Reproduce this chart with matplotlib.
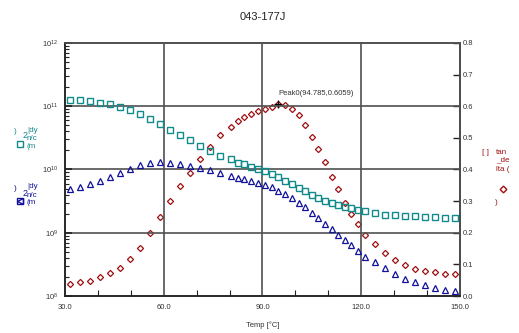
import matplotlib
matplotlib.use("Agg")
import matplotlib.pyplot as plt
from matplotlib.ticker import LogLocator, MultipleLocator, FixedLocator, NullFormatter
from matplotlib.lines import Line2D

plt.rcParams['font.family'] = ['Liberation Sans', 'DejaVu Sans']

# temperature [C]
temp = [31.5, 34.5, 37.6, 40.6, 43.7, 46.7, 49.8, 52.8, 55.8, 58.9,
        61.9, 65.0, 68.1, 71.1, 74.2, 77.2, 80.3, 82.5, 84.5, 86.6,
        88.6, 90.8, 92.8, 94.8, 96.9, 98.9, 101.0, 103.0, 105.0, 107.0,
        109.0, 111.0, 113.0, 115.0, 117.0, 119.0, 121.0, 124.1, 127.1, 130.2,
        133.2, 136.2, 139.3, 142.3, 145.4, 148.5]

# storage modulus (squares)
g_storage = [1.26e11, 1.24e11, 1.20e11, 1.14e11, 1.09e11, 9.84e10, 8.73e10, 7.62e10, 6.35e10, 5.19e10,
             4.22e10, 3.48e10, 2.90e10, 2.38e10, 1.96e10, 1.65e10, 1.47e10, 1.28e10, 1.20e10, 1.10e10,
             1.02e10, 9.55e9, 8.49e9, 7.53e9, 6.65e9, 5.90e9, 5.11e9, 4.52e9, 4.00e9, 3.54e9,
             3.21e9, 2.92e9, 2.72e9, 2.58e9, 2.46e9, 2.29e9, 2.18e9, 2.03e9, 1.93e9, 1.89e9,
             1.84e9, 1.84e9, 1.79e9, 1.75e9, 1.71e9, 1.69e9]

# loss modulus (triangles)
g_loss = [4.86e9, 5.35e9, 5.83e9, 6.65e9, 7.69e9, 8.89e9, 1.02e10, 1.16e10, 1.25e10, 1.32e10,
          1.27e10, 1.22e10, 1.15e10, 1.07e10, 9.82e9, 8.71e9, 7.89e9, 7.41e9, 7.10e9, 6.58e9,
          6.22e9, 5.75e9, 5.24e9, 4.62e9, 4.10e9, 3.54e9, 2.99e9, 2.52e9, 2.07e9, 1.69e9,
          1.39e9, 1.15e9, 9.31e8, 7.67e8, 6.34e8, 5.20e8, 4.18e8, 3.45e8, 2.77e8, 2.23e8,
          1.88e8, 1.66e8, 1.48e8, 1.34e8, 1.24e8, 1.20e8]

# tan delta (diamonds)
tan_delta = [0.038, 0.043, 0.048, 0.059, 0.072, 0.089, 0.116, 0.152, 0.198, 0.249,
             0.301, 0.348, 0.389, 0.432, 0.472, 0.508, 0.535, 0.554, 0.566, 0.577,
             0.586, 0.592, 0.599, 0.606, 0.603, 0.590, 0.571, 0.542, 0.504, 0.464,
             0.424, 0.377, 0.337, 0.295, 0.259, 0.227, 0.194, 0.164, 0.137, 0.114,
             0.097, 0.086, 0.080, 0.076, 0.069, 0.068]

peak_x = 94.785
peak_y = 0.6059

teal = "#108a8a"
navy = "#10109a"
darkred = "#a01010"
grid_c = "#505050"
txt_c = "#333333"


def main():
    fig = plt.figure(figsize=(5.19, 3.33), dpi=100)
    ax = fig.add_axes([0.1252, 0.1111, 0.7611, 0.7598])
    ax2 = ax.twinx()

    ax.set_yscale("log")
    ax.set_xlim(30, 150)
    ax.set_ylim(1e8, 1e12)
    ax2.set_ylim(0, 0.8)

    ax.set_zorder(2)
    ax.patch.set_visible(False)

    ax.plot(temp, g_storage, ls="none", marker="s", ms=4.0, mfc="none",
            mec=teal, mew=1.0, clip_on=False)
    ax.plot(temp, g_loss, ls="none", marker="^", ms=4.6, mfc="none",
            mec=navy, mew=0.9, clip_on=False)
    ax2.plot(temp, tan_delta, ls="none", marker="D", ms=3.1, mfc="none",
             mec=darkred, mew=0.9, clip_on=False)

    # peak label
    ax2.plot([peak_x], [peak_y], marker="+", ms=6, mew=0.9, color="black")
    ax2.annotate("Peak0(%.3f,%.4f)" % (peak_x, peak_y), (peak_x, peak_y),
                 xytext=(0, 5), textcoords="offset points",
                 fontsize=5.5, color=txt_c, ha="left", va="bottom")

    # grid lines
    for gx in [60, 90, 120]:
        ax.axvline(gx, color=grid_c, lw=1.2, zorder=0)
    for gy in [1e9, 1e10, 1e11]:
        ax.axhline(gy, color=grid_c, lw=1.2, zorder=0)

    for sp in ax.spines.values():
        sp.set_color(grid_c)
        sp.set_linewidth(1.2)
    for sp in ax2.spines.values():
        sp.set_color(grid_c)
        sp.set_linewidth(1.2)
    ax.spines["left"].set_color("#222222")
    ax.spines["bottom"].set_color("#222222")
    ax2.spines["right"].set_color("#222222")

    # ticks
    ax.xaxis.set_major_locator(FixedLocator([30, 60, 90, 120, 150]))
    ax.xaxis.set_minor_locator(MultipleLocator(10))
    ax.set_xticklabels(["30.0", "60.0", "90.0", "120.0", "150.0"])
    ax.yaxis.set_major_locator(LogLocator(base=10, numticks=10))
    ax.yaxis.set_minor_locator(LogLocator(base=10, subs=range(2, 10), numticks=10))
    ax.yaxis.set_minor_formatter(NullFormatter())
    ax.tick_params(axis="both", which="both", direction="in", colors="#222222",
                   labelcolor=txt_c, labelsize=5.5)
    ax.tick_params(axis="x", which="major", length=0, pad=6)
    ax.tick_params(axis="x", which="minor", length=4, width=0.8)
    ax.tick_params(axis="y", which="major", length=5, width=1.2, pad=5)
    ax.tick_params(axis="y", which="minor", length=3, width=0.8)
    ax.tick_params(top=False, right=False, which="both")

    ax2.yaxis.set_major_locator(MultipleLocator(0.1))
    ax2.yaxis.set_major_formatter(plt.FormatStrFormatter("%.1f"))
    ax2.tick_params(axis="y", direction="in", length=5, width=1.0,
                    colors="#222222", labelcolor=txt_c, labelsize=5.5, pad=2)

    # title and x label
    fig.text(0.507, 0.948, "043-177J", ha="center", va="center",
             fontsize=8, color="#222222")
    fig.text(0.507, 0.024, "Temp [\u00b0C]", ha="center", va="center",
             fontsize=5.5, color=txt_c)

    # garbled axis titles (as drawn in the original)
    W, H = 519.0, 333.0

    def ftxt(x, y, s, c, fs=5.8, ha="left"):
        fig.text(x / W, 1 - y / H, s, color=c, fontsize=fs, ha=ha, va="center")

    def fmark(x, y, m, c, ms):
        fig.add_artist(Line2D([x / W], [1 - y / H], marker=m, ms=ms, mfc="none",
                              mec=c, mew=1.0, ls="none"))

    for c, y0, m in [(teal, 0, "s"), (navy, 57, "^")]:
        ftxt(14, 132 + y0, ")", c)
        ftxt(23, 136 + y0, "2", c, fs=6.5)
        ftxt(27, 130 + y0, "|dy", c)
        ftxt(26.5, 138.5 + y0, "n/c", c)
        ftxt(26.5, 146 + y0, "(m", c)
        fmark(20, 143.5 + y0, "s", c, 4.4)
        if m == "^":
            fmark(20, 143.5 + y0, "<", c, 4.0)

    ftxt(482, 153, "[ ]", darkred)
    ftxt(496, 152.5, "tan", darkred)
    ftxt(496, 160, "_de", darkred)
    ftxt(496, 169.5, "lta (", darkred)
    fmark(503, 189, "D", darkred, 3.4)
    ftxt(495, 202, ")", darkred)

    fig.savefig("out.png", dpi=100)


if __name__ == '__main__':
    main()
